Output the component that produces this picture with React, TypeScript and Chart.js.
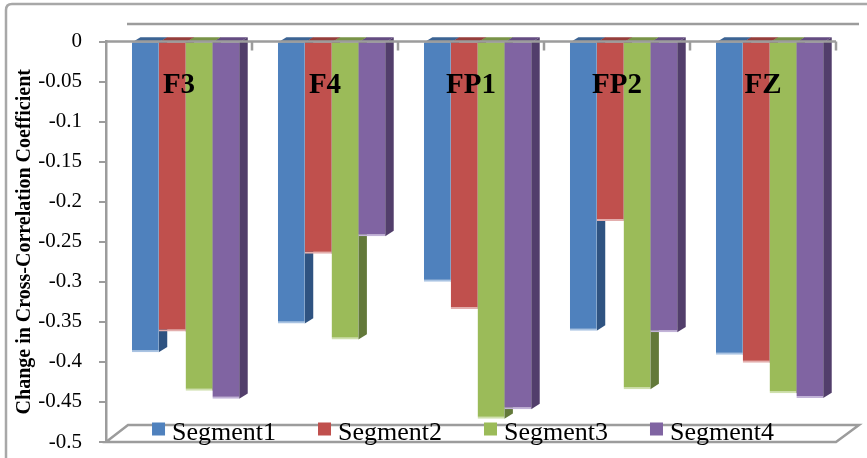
import React, { useEffect, useRef } from "react";
import { Chart, registerables } from "chart.js";

Chart.register(...registerables);

const categories = ["F3", "F4", "FP1", "FP2", "FZ"];
const seriesNames = ["Segment1", "Segment2", "Segment3", "Segment4"];
const segment1 = [-0.388, -0.352, -0.3, -0.361, -0.391];
const segment2 = [-0.362, -0.265, -0.334, -0.224, -0.401];
const segment3 = [-0.436, -0.372, -0.471, -0.434, -0.439];
const segment4 = [-0.446, -0.243, -0.459, -0.363, -0.445];
const seriesValues = [segment1, segment2, segment3, segment4];
const yMin = -0.5;
const yMax = 0;
const yStep = 0.05;
const yTitle = "Change in Cross-Correlation Coefficient";

const frontColors = ["#4F81BD", "#C0504D", "#9BBB59", "#8064A2"];
const topColors = ["#3C6494", "#963E3B", "#799347", "#644C82"];
const sideColors = ["#2F5381", "#7E312F", "#63793A", "#523E6B"];
const edgeColors = ["#A9C3E2", "#E3AEAD", "#CFE0AE", "#C2B3D8"];

const SERIF = "'Liberation Serif', 'Times New Roman', serif";
const DEPTH_X = 8.5;
const DEPTH_Y = 5.3;
const WALL_X = 22;
const WALL_Y = 17;
const FRAME = "#9c9c9c";
// perspective shift of the bar groups, in fractions of a category
const BAR_SHIFT = 0.045;

const threeDPlugin = {
  id: "threeD",
  beforeDraw(chart: any) {
    const { ctx, chartArea } = chart;
    const { left, right, bottom, top } = chartArea;
    ctx.save();
    ctx.strokeStyle = "#a8a8a8";
    ctx.lineWidth = 2.5;
    ctx.beginPath();
    const r = 6;
    ctx.moveTo(6, chart.height + 10);
    ctx.lineTo(6, 4 + r);
    ctx.quadraticCurveTo(6, 4, 6 + r, 4);
    ctx.lineTo(chart.width + 10, 4);
    ctx.stroke();
    ctx.strokeStyle = FRAME;
    ctx.lineWidth = 2.5;
    ctx.beginPath();
    ctx.moveTo(left + WALL_X - 1, top - WALL_Y - 0.5);
    ctx.lineTo(right + WALL_X + 1, top - WALL_Y - 0.5);
    ctx.stroke();
    ctx.beginPath();
    ctx.moveTo(left, bottom);
    ctx.lineTo(right, bottom);
    ctx.lineTo(right + WALL_X + 1, bottom - WALL_Y);
    ctx.lineTo(left + WALL_X, bottom - WALL_Y);
    ctx.closePath();
    ctx.stroke();
    ctx.restore();
  },
  beforeDatasetsDraw(chart: any) {
    const { ctx } = chart;
    ctx.save();
    chart.data.datasets.forEach((_: any, d: number) => {
      const meta = chart.getDatasetMeta(d);
      meta.data.forEach((el: any) => {
        const { x, y, base, width } = el.getProps(["x", "y", "base", "width"], true);
        const l = x - width / 2;
        const rr = x + width / 2;
        const t = Math.min(y, base);
        const b = Math.max(y, base);
        ctx.fillStyle = topColors[d];
        ctx.beginPath();
        ctx.moveTo(l, t);
        ctx.lineTo(l + DEPTH_X, t - DEPTH_Y);
        ctx.lineTo(rr + DEPTH_X, t - DEPTH_Y);
        ctx.lineTo(rr, t);
        ctx.closePath();
        ctx.fill();
        ctx.fillStyle = sideColors[d];
        ctx.beginPath();
        ctx.moveTo(rr, t);
        ctx.lineTo(rr + DEPTH_X, t - DEPTH_Y);
        ctx.lineTo(rr + DEPTH_X, b - DEPTH_Y);
        ctx.lineTo(rr, b);
        ctx.closePath();
        ctx.fill();
      });
    });
    ctx.restore();
  },
  afterDatasetsDraw(chart: any) {
    const { ctx, chartArea } = chart;
    const { left, right, top, bottom } = chartArea;
    ctx.save();
    ctx.strokeStyle = FRAME;
    ctx.lineWidth = 2.5;
    ctx.beginPath();
    ctx.moveTo(left, top);
    ctx.lineTo(right, top);
    const step = (right - left) / categories.length;
    for (let i = 1; i <= categories.length; i++) {
      const px = left + step * i;
      ctx.moveTo(px, top);
      ctx.lineTo(px, top + 9);
    }
    ctx.stroke();
    ctx.fillStyle = "#000";
    ctx.font = `bold 29px ${SERIF}`;
    ctx.textAlign = "center";
    ctx.textBaseline = "middle";
    categories.forEach((c, i) => {
      ctx.fillText(c, left + step * (i + 0.5), top + 44);
    });
    ctx.font = `26px ${SERIF}`;
    ctx.textAlign = "left";
    ctx.textBaseline = "alphabetic";
    const box = 13;
    const gapBox = 7;
    const gapItem = 42;
    const widths = seriesNames.map((n) => ctx.measureText(n).width);
    const total =
      widths.reduce((a, w) => a + w + box + gapBox, 0) + gapItem * (seriesNames.length - 1);
    let lx = (left + right) / 2 - 8 - total / 2;
    seriesNames.forEach((n, i) => {
      ctx.fillStyle = frontColors[i];
      ctx.fillRect(lx, bottom - 19.5, box, box);
      ctx.fillStyle = "#000";
      ctx.fillText(n, lx + box + gapBox, bottom - 2.5);
      lx += box + gapBox + widths[i] + gapItem;
    });
    ctx.restore();
  },
};

export default function App() {
  const ref = useRef<HTMLCanvasElement>(null);
  useEffect(() => {
    const canvas = ref.current!;
    const chart = new Chart(canvas, {
      type: "bar",
      data: {
        labels: categories,
        datasets: seriesValues.map((vals, i) => ({
          label: seriesNames[i],
          data: vals.map((v, j) => ({ x: j, y: v })),
          backgroundColor: frontColors[i],
          borderColor: edgeColors[i],
          borderWidth: { top: 0, right: 0, bottom: 2, left: 0 },
          borderSkipped: false,
          categoryPercentage: 0.735,
          barPercentage: 1,
        })),
      },
      options: {
        responsive: false,
        animation: false,
        layout: { padding: { top: 41.5, right: 31, bottom: 16, left: 0 } },
        plugins: {
          legend: { display: false },
          tooltip: { enabled: false },
          title: { display: false },
        },
        scales: {
          x: {
            type: "linear",
            display: false,
            offset: false,
            min: -0.5 - BAR_SHIFT,
            max: categories.length - 0.5 - BAR_SHIFT,
            afterBuildTicks: (s: any) => {
              s.ticks = categories.map((_, i) => ({ value: i }));
            },
          },
          y: {
            min: yMin,
            max: yMax,
            ticks: {
              stepSize: yStep,
              padding: 17,
              color: "#000",
              font: { family: SERIF, size: 21 },
              callback: (v: any) => String(Math.round(Number(v) * 100) / 100),
            },
            grid: {
              drawOnChartArea: false,
              drawTicks: true,
              tickLength: 7,
              color: FRAME,
              lineWidth: 2,
            },
            border: { display: true, color: FRAME, width: 2.5 },
            title: {
              display: true,
              text: yTitle,
              color: "#000",
              font: { family: SERIF, size: 20, weight: "bold" },
              padding: { top: 13, bottom: 0 },
            },
            afterFit: (s: any) => {
              s.width = 106;
              s.paddingTop = 0;
              s.paddingBottom = 0;
            },
          },
        },
      } as any,
      plugins: [threeDPlugin],
    });
    return () => chart.destroy();
  }, []);
  return (
    <div style={{ position: "fixed", left: 0, top: 0, width: 867, height: 458, background: "#fff" }}>
      <canvas ref={ref} width={867} height={458} style={{ display: "block" }} />
    </div>
  );
}
